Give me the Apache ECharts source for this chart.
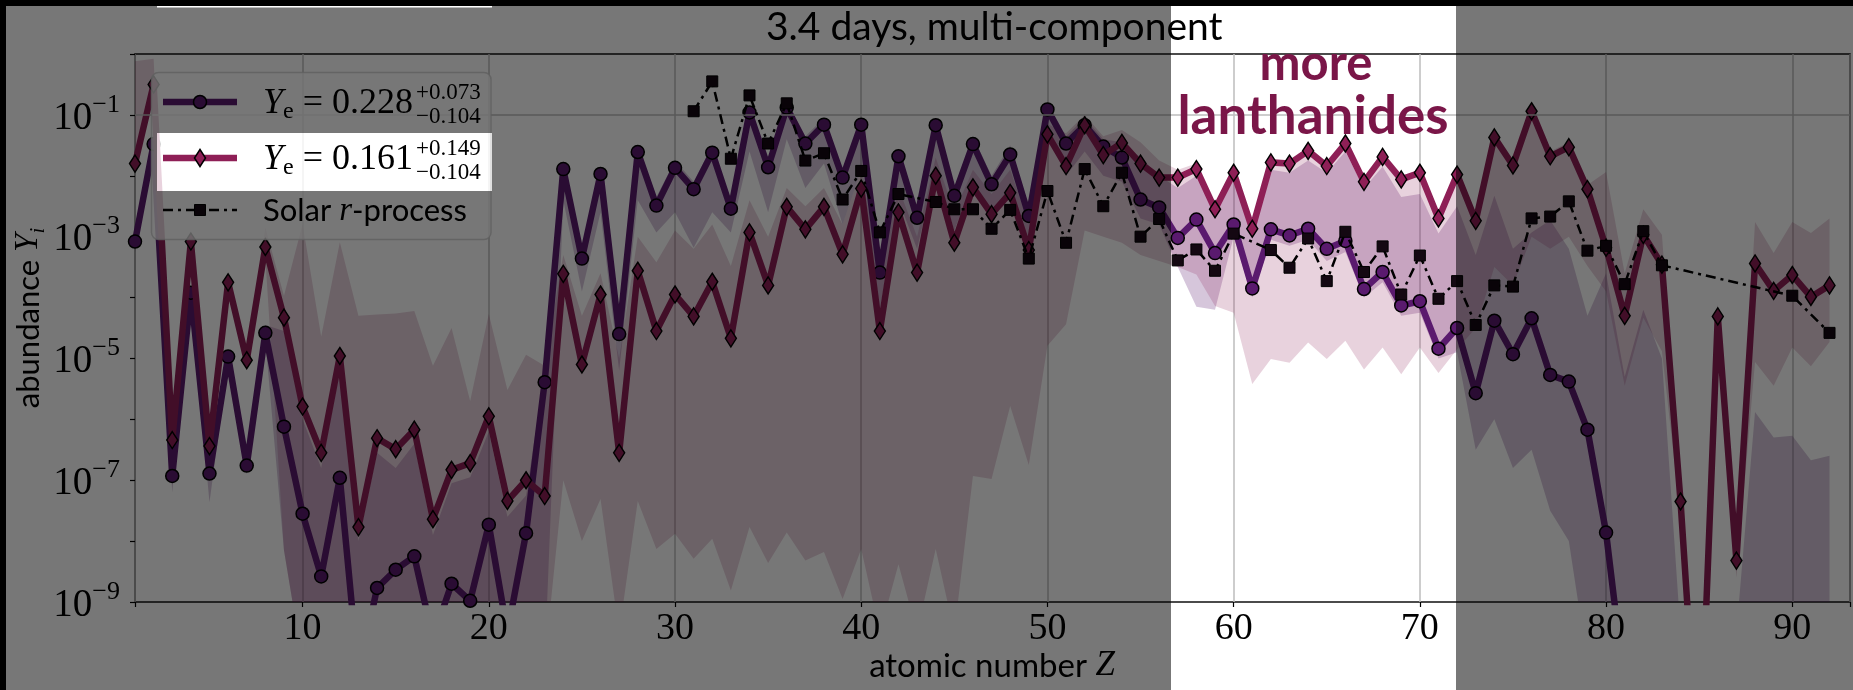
<!DOCTYPE html>
<html>
<head>
<meta charset="utf-8">
<script src="https://cdn.jsdelivr.net/npm/echarts@6/dist/echarts.min.js"></script>
<style>
  html, body { margin: 0; padding: 0; background: #ffffff; }
  #chart { width: 1853px; height: 690px; }
</style>
</head>
<body>
<div id="chart"></div>
<script>
// Atomic numbers
const Z = [1,2,3,4,5,6,7,8,9,10,11,12,13,14,15,16,17,18,19,20,21,22,23,24,25,26,27,28,29,30,
  31,32,33,34,35,36,37,38,39,40,41,42,43,44,45,46,47,48,49,50,51,52,53,54,55,56,57,58,59,60,
  61,62,63,64,65,66,67,68,69,70,71,72,73,74,75,76,77,78,79,80,81,82,83,84,85,86,87,88,89,90,91,92];

// log10 of abundance Y_i, model with Ye = 0.228
const logYe228 = [-3.08,-1.48,-6.93,-3.92,-6.89,-4.97,-6.76,-4.58,-6.12,-7.55,-8.58,-6.96,-10.2,-8.77,-8.47,-8.25,-9.6,-8.70,-8.98,-7.73,
  -9.5,-7.87,-5.39,-1.89,-3.36,-1.97,-4.60,-1.61,-2.49,-1.87,-2.22,-1.62,-2.54,-0.96,-1.86,-0.88,-1.47,-1.16,-2.03,-1.16,
  -3.59,-1.68,-2.69,-1.17,-2.33,-1.48,-2.14,-1.65,-2.66,-0.91,-1.47,-1.17,-1.52,-1.70,-2.39,-2.52,-3.02,-2.72,-3.27,-2.80,
  -3.85,-2.88,-2.98,-2.87,-3.20,-3.07,-3.86,-3.58,-4.13,-4.06,-4.84,-4.50,-5.57,-4.38,-4.93,-4.34,-5.27,-5.38,-6.17,-7.86,
  -10.4,-10.8,-11.0,-11.3,-11.5,-11.6,-11.8,-11.9,-12.0,-12.1,-12.2,-12.3];

// log10 of abundance Y_i, model with Ye = 0.161
const logYe161 = [-1.80,-0.50,-6.34,-3.08,-6.44,-3.75,-5.03,-3.17,-4.33,-5.79,-6.55,-4.96,-7.77,-6.31,-6.49,-6.17,-7.64,-6.83,-6.72,-5.95,
  -7.34,-7.00,-7.26,-3.61,-5.10,-3.95,-6.55,-3.56,-4.55,-3.95,-4.31,-3.74,-4.67,-2.93,-3.80,-2.51,-2.88,-2.51,-3.29,-2.21,
  -4.55,-2.60,-3.59,-2.00,-3.10,-2.19,-2.63,-2.28,-3.22,-1.32,-1.84,-1.17,-1.66,-1.46,-1.80,-2.03,-2.03,-1.89,-2.55,-1.95,
  -2.87,-1.78,-1.80,-1.59,-1.84,-1.47,-2.10,-1.69,-2.06,-1.95,-2.70,-1.98,-2.74,-1.37,-1.83,-0.94,-1.68,-1.53,-2.22,-3.18,
  -4.30,-2.97,-3.46,-7.35,-12.0,-4.31,-8.32,-3.44,-3.89,-3.63,-3.99,-3.80];

// Solar r-process pattern (elements without an r-process value are absent)
const solarZ = [31,32,33,34,35,36,37,38,39,40,41,42,44,45,46,47,48,49,50,51,52,53,54,55,56,57,58,59,60,
  62,63,64,65,66,67,68,69,70,71,72,73,74,75,76,77,78,79,80,81,82,83,90,92];
const logSolar = [-0.94,-0.45,-1.72,-0.68,-1.47,-0.81,-1.75,-1.63,-2.39,-1.92,-2.93,-2.30,-2.43,-2.55,-2.55,-2.87,-2.56,-3.36,-2.25,
  -3.10,-1.89,-2.50,-1.95,-3.00,-2.71,-3.39,-3.21,-3.56,-2.95,
  -3.22,-3.51,-3.03,-3.73,-2.92,-3.58,-3.16,-3.95,-3.31,-4.02,-3.73,-4.45,-3.80,-3.82,-2.70,-2.67,-2.42,-3.23,-3.15,-3.78,-2.91,-3.47,
  -3.97,-4.58];

// Uncertainty bands (log10), Ye = 0.228
const bandLo228 = [-3.25,-1.6,-7.2,-4.05,-7.36,-5.1,-6.9,-4.7,-8.15,-10,-10,-10,-10,-10,-10,-10,-10,-10,-10,-10,
  -10,-10,-10,-2.4,-3.9,-2.6,-5.2,-2.4,-2.93,-2.6,-3.18,-2.6,-2.93,-1.6,-2.6,-1.4,-2.2,-1.8,-2.8,-1.9,
  -4.2,-2.4,-3.2,-1.9,-2.9,-2.1,-2.7,-2.3,-3.2,-1.3,-2.0,-1.6,-2.0,-2.1,-2.7,-2.8,-3.5,-4.15,-4.2,-3.0,
  -4.0,-3.05,-3.15,-3.05,-3.4,-3.25,-4.0,-3.75,-4.3,-4.25,-5.0,-4.9,-6.5,-6.0,-6.8,-6.5,-7.5,-8.0,-10,-10,
  -10,-10,-10,-11,-11,-11,-11,-11,-11,-11,-11,-11];
const bandHi228 = [-2.95,-1.35,-6.8,-3.8,-6.8,-4.85,-6.65,-4.45,-4.55,-6.0,-6.8,-5.2,-8.0,-6.55,-6.8,-6.4,-7.9,-7.05,-6.95,-6.2,
  -7.6,-7.25,-5.2,-1.75,-3.2,-1.85,-4.4,-1.5,-2.35,-1.75,-2.1,-1.5,-2.4,-0.85,-1.75,-0.78,-1.35,-1.05,-1.9,-1.05,
  -3.4,-1.55,-2.55,-1.05,-2.2,-1.35,-2.0,-1.5,-2.5,-0.8,-1.35,-1.05,-1.4,-1.45,-1.7,-2.0,-2.2,-2.0,-2.6,-2.05,
  -2.95,-1.9,-1.95,-1.75,-1.95,-1.6,-2.2,-1.85,-2.35,-2.3,-2.95,-2.5,-3.3,-2.33,-3.2,-2.93,-2.73,-3.2,-4.3,-3.6,
  -5.3,-4.2,-5.0,-9.5,-9.5,-9.5,-9.5,-5.88,-6.3,-6.27,-6.67,-6.6];

// Uncertainty bands (log10), Ye = 0.161
const bandLo161 = [-1.95,-0.65,-6.5,-3.25,-6.6,-3.9,-5.2,-3.35,-8.15,-10,-10,-10,-10,-10,-10,-10,-10,-10,-10,-10,
  -10,-10,-10,-7.0,-8.0,-7.31,-9.5,-7.34,-8.13,-7.88,-8.29,-7.96,-8.81,-7.77,-8.36,-7.86,-8.32,-8.18,-8.95,-8.13,
  -9.5,-8.38,-9.5,-8.13,-9.5,-6.93,-6.98,-5.78,-6.75,-4.79,-4.44,-2.9,-3.0,-3.1,-3.3,-3.4,-3.5,-3.62,-4.14,-4.25,
  -5.42,-5.01,-5.07,-4.74,-5.01,-4.71,-5.18,-4.82,-5.26,-4.82,-5.24,-4.85,-4.5,-3.5,-3.8,-3.0,-3.2,-3.0,-3.48,-3.9,
  -5.45,-4.33,-4.88,-7.6,-12.5,-4.6,-8.6,-5.06,-5.45,-4.82,-5.13,-4.73];
const bandHi161 = [-0.12,-0.08,-6.2,-2.95,-6.3,-3.6,-4.9,-2.85,-3.97,-2.79,-4.64,-3.09,-4.30,-4.28,-4.26,-4.22,-5.12,-4.50,-5.70,-4.27,
  -5.52,-4.94,-5.12,-3.3,-4.3,-3.6,-5.0,-3.0,-3.42,-2.9,-3.2,-2.8,-3.48,-2.4,-3.0,-2.2,-2.5,-2.2,-2.8,-1.9,
  -3.6,-2.2,-3.0,-1.7,-2.6,-1.9,-2.3,-1.9,-2.8,-1.15,-1.3,-1.0,-1.35,-1.25,-1.45,-1.75,-1.9,-1.8,-2.45,-1.9,
  -2.8,-1.72,-1.75,-1.54,-1.78,-1.42,-2.05,-1.64,-2.0,-1.9,-2.64,-1.92,-2.6,-1.3,-1.75,-0.9,-1.6,-1.45,-2.15,-1.94,
  -3.6,-2.55,-2.97,-7.1,-11.5,-4.1,-8.0,-2.76,-3.27,-2.76,-2.94,-2.70];

// Labelled decades on the abundance axis
const yGridValues = [1e-1, 1e-3, 1e-5, 1e-7];

const PURPLE = '#5a1a6e';
const CRIMSON = '#8e1f56';
const SERIF = 'Liberation Serif';
const SANS = 'Lato';

const pow10 = e => Math.pow(10, e);
const pairs = (xs, logs) => xs.map((x, i) => [x, pow10(logs[i])]);

function bandSeries(name, lo, hi, fill) {
  return {
    name: name,
    type: 'custom',
    z: 2,
    clip: true,
    silent: true,
    data: Z.map((z, i) => [z, pow10(lo[i]), pow10(hi[i])]),
    encode: { x: 0, y: [1, 2] },
    renderItem: function (params, api) {
      if (params.dataIndex !== 0) return null;
      const upper = Z.map((z, i) => api.coord([z, pow10(hi[i])]));
      const lower = Z.map((z, i) => api.coord([z, pow10(lo[i])])).reverse();
      return { type: 'polygon', shape: { points: upper.concat(lower) }, style: { fill: fill } };
    }
  };
}

function ptext(x, y, text, extra) {
  return Object.assign({ type: 'text', x: x, y: y, z: 53, silent: true,
    style: Object.assign({ text: text, fill: '#000', align: 'left', verticalAlign: 'middle',
      textAlign: 'left', textVerticalAlign: 'middle' }, extra || {}) });
}

const yeRich = {
  y: { fontFamily: SERIF, fontStyle: 'italic', fontSize: 36, fill: '#000', lineHeight: 40, verticalAlign: 'middle' },
  e: { fontFamily: SERIF, fontSize: 24, fill: '#000', lineHeight: 24, verticalAlign: 'bottom' },
  m: { fontFamily: SERIF, fontSize: 36, fill: '#000', lineHeight: 40, verticalAlign: 'middle' }
};
const scriptStyle = { fontFamily: SERIF, fontSize: 23 };

// Highlight window and legend row left uncovered by the dimming layer
const DIM = 'rgba(0,0,0,0.535)';
const dimRects = [
  [6, 6, 1165, 127],
  [6, 133, 151, 58],
  [492, 133, 679, 58],
  [6, 191, 1165, 499],
  [1456, 6, 397, 684]
];

const chart = echarts.init(document.getElementById('chart'));
chart.setOption({
  animation: false,
  backgroundColor: '#ffffff',
  grid: {
    left: 135, right: -2, top: 54, bottom: 88,
    show: true, borderColor: '#111111', borderWidth: 1.5, backgroundColor: 'transparent'
  },
  xAxis: {
    type: 'value', min: 1, max: 93.1, splitNumber: 9, minInterval: 10, maxInterval: 10,
    axisLine: { show: false },
    axisTick: { show: true, length: 5, lineStyle: { color: '#000', width: 1.2 } },
    axisLabel: {
      margin: 8, color: '#000', fontFamily: SERIF, fontSize: 38,
      formatter: v => (v % 10 === 0 ? String(v) : '')
    },
    splitLine: { show: true, lineStyle: { color: '#bdbdbd', width: 1.5 } }
  },
  yAxis: {
    type: 'log', logBase: 10, min: 1e-9, max: 1,
    axisLine: { show: false },
    axisTick: { show: true, length: 5, lineStyle: { color: '#000', width: 1.2 } },
    splitLine: { show: false },
    axisLabel: {
      margin: 15, color: '#000',
      formatter: function (v) {
        const e = Math.round(Math.log10(v));
        if (e % 2 === 0) return '';
        return '{b|10}{s|\u2212' + Math.abs(e) + '}';
      },
      rich: {
        b: { fontFamily: SERIF, fontSize: 39, color: '#000', lineHeight: 46, verticalAlign: 'bottom' },
        s: { fontFamily: SERIF, fontSize: 26, color: '#000', lineHeight: 26, verticalAlign: 'top' }
      }
    }
  },
  series: [
    {
      name: 'grid', type: 'line', data: [], z: 1, silent: true,
      markLine: {
        silent: true, symbol: ['none', 'none'], label: { show: false },
        lineStyle: { color: '#bdbdbd', width: 1.5, type: 'solid' },
        data: yGridValues.map(v => ({ yAxis: v }))
      }
    },
    bandSeries('band228', bandLo228, bandHi228, 'rgba(90,26,110,0.25)'),
    bandSeries('band161', bandLo161, bandHi161, 'rgba(142,31,86,0.2)'),
    {
      name: 'Ye 0.228', type: 'line', z: 3, clip: true,
      data: pairs(Z, logYe228),
      symbol: 'circle', symbolSize: 13,
      itemStyle: { color: PURPLE, borderColor: '#000', borderWidth: 1.5 },
      lineStyle: { color: PURPLE, width: 6.5 }
    },
    {
      name: 'Ye 0.161', type: 'line', z: 4, clip: true,
      data: pairs(Z, logYe161),
      symbol: 'diamond', symbolSize: [11, 17],
      itemStyle: { color: CRIMSON, borderColor: '#000', borderWidth: 1.5 },
      lineStyle: { color: CRIMSON, width: 6.5 }
    },
    {
      name: 'Solar r-process', type: 'line', z: 5, clip: true,
      data: pairs(solarZ, logSolar),
      symbol: 'rect', symbolSize: 11,
      itemStyle: { color: '#140812', borderColor: '#000', borderWidth: 1 },
      lineStyle: { color: '#000', width: 2.5, type: [10, 5, 3, 5] }
    }
  ],
  graphic: [
    // title and axis names
    { type: 'text', x: 766, y: 27, z: 60, silent: true,
      style: { text: '3.4 days, multi-component', fill: '#000', fontFamily: SANS, fontSize: 39,
               align: 'left', verticalAlign: 'middle', textAlign: 'left', textVerticalAlign: 'middle' } },
    { type: 'text', x: 992, y: 666, z: 60, silent: true,
      style: { text: '{a|atomic number }{z|Z}', fill: '#000', align: 'center', verticalAlign: 'middle',
               textAlign: 'center', textVerticalAlign: 'middle',
               rich: { a: { fontFamily: SANS, fontSize: 33, fill: '#000' },
                       z: { fontFamily: SERIF, fontStyle: 'italic', fontSize: 35, fill: '#000' } } } },
    { type: 'text', x: 28.5, y: 318, rotation: Math.PI / 2, z: 60, silent: true,
      style: { text: '{a|abundance }{y|Y}{i|i}', fill: '#000', align: 'center', verticalAlign: 'middle',
               textAlign: 'center', textVerticalAlign: 'middle',
               rich: { a: { fontFamily: SANS, fontSize: 31, fill: '#000', lineHeight: 40, verticalAlign: 'middle' },
                       y: { fontFamily: SERIF, fontStyle: 'italic', fontSize: 33, fill: '#000', lineHeight: 40, verticalAlign: 'middle' },
                       i: { fontFamily: SERIF, fontStyle: 'italic', fontSize: 21, fill: '#000', lineHeight: 21, verticalAlign: 'bottom' } } } },

    // legend
    { type: 'rect', z: 50, silent: true, shape: { x: 151.5, y: 72.5, width: 339.5, height: 167, r: 7 },
      style: { fill: 'rgba(255,255,255,0.8)', stroke: 'rgba(204,204,204,0.8)', lineWidth: 1.5 } },
    { type: 'line', z: 51, silent: true, shape: { x1: 163, y1: 102, x2: 237, y2: 102 },
      style: { stroke: PURPLE, lineWidth: 6.5 } },
    { type: 'circle', z: 52, silent: true, shape: { cx: 200, cy: 102, r: 6.5 },
      style: { fill: PURPLE, stroke: '#000', lineWidth: 1.5 } },
    { type: 'line', z: 51, silent: true, shape: { x1: 163, y1: 158, x2: 237, y2: 158 },
      style: { stroke: CRIMSON, lineWidth: 6.5 } },
    { type: 'polygon', z: 52, silent: true, shape: { points: [[200, 149.5], [205.5, 158], [200, 166.5], [194.5, 158]] },
      style: { fill: CRIMSON, stroke: '#000', lineWidth: 1.5 } },
    { type: 'line', z: 51, silent: true, shape: { x1: 163, y1: 210, x2: 237, y2: 210 },
      style: { stroke: '#000', lineWidth: 2.5, lineDash: [10, 5, 3, 5] } },
    { type: 'rect', z: 52, silent: true, shape: { x: 194.5, y: 204.5, width: 11, height: 11 },
      style: { fill: '#140812', stroke: '#000', lineWidth: 1 } },

    ptext(263, 104, '{y|Y}{e|e}{m| = 0.228}', { rich: yeRich }),
    ptext(416, 93, '+0.073', scriptStyle),
    ptext(416, 116.5, '\u22120.104', scriptStyle),
    ptext(263, 160, '{y|Y}{e|e}{m| = 0.161}', { rich: yeRich }),
    ptext(416, 149, '+0.149', scriptStyle),
    ptext(416, 172.5, '\u22120.104', scriptStyle),
    ptext(263, 211, '{a|Solar }{r|r}{a|-process}', {
      rich: { a: { fontFamily: SANS, fontSize: 31, fill: '#000' },
              r: { fontFamily: SERIF, fontStyle: 'italic', fontSize: 33, fill: '#000' } } }),

    // dimming layer
    ...dimRects.map(r => ({ type: 'rect', z: 100, silent: true,
      shape: { x: r[0], y: r[1], width: r[2], height: r[3] }, style: { fill: DIM } })),
    { type: 'rect', z: 120, silent: true, shape: { x: 157, y: 6, width: 335, height: 1.5 }, style: { fill: '#ffffff' } },
    { type: 'rect', z: 120, silent: true, shape: { x: 0, y: 0, width: 1853, height: 6 }, style: { fill: '#000000' } },
    { type: 'rect', z: 120, silent: true, shape: { x: 0, y: 0, width: 6, height: 690 }, style: { fill: '#000000' } },

    // annotation
    { type: 'text', x: 1316, y: 64, z: 130, silent: true,
      style: { text: 'more', fill: '#7a1648', fontFamily: SANS, fontWeight: 'bold', fontSize: 49,
               align: 'center', verticalAlign: 'middle', textAlign: 'center', textVerticalAlign: 'middle' } },
    { type: 'text', x: 1313, y: 117, z: 130, silent: true,
      style: { text: 'lanthanides', fill: '#7a1648', fontFamily: SANS, fontWeight: 'bold', fontSize: 53,
               align: 'center', verticalAlign: 'middle', textAlign: 'center', textVerticalAlign: 'middle' } }
  ]
});
</script>
</body>
</html>
